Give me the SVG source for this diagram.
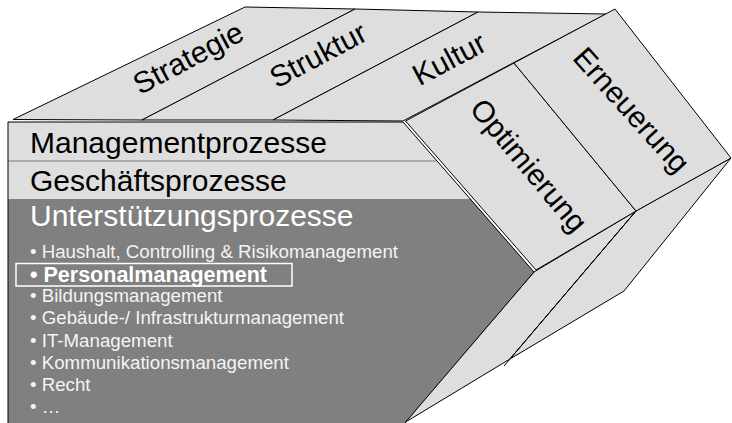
<svg xmlns="http://www.w3.org/2000/svg" width="732" height="423" viewBox="0 0 732 423">
  <style>
    .face { fill: #dedede; stroke: #000; stroke-width: 1; stroke-linejoin: miter; }
    .dark { fill: #808080; stroke: #000; stroke-width: 1; }
    .edge { fill: none; stroke: #000; stroke-width: 1; }
    .sep  { fill: none; stroke: #7a7a7a; stroke-width: 1; }
    .big  { font-family: "Liberation Sans", Arial, sans-serif; font-size: 30px; fill: #000; }
    .head { font-family: "Liberation Sans", Arial, sans-serif; font-size: 30px; fill: #fff; }
    .item { font-family: "Liberation Sans", Arial, sans-serif; font-size: 18.7px; fill: #f4f4f4; }
    .bold { font-family: "Liberation Sans", Arial, sans-serif; font-size: 21.5px; font-weight: bold; fill: #fff; }
  </style>
  <rect width="732" height="423" fill="#fff"/>

  <!-- underside faces -->
  <g id="underside-left">
    <polygon class="face" points="534,272 636,211 510,359 404,423"/>
  </g>
  <g id="underside-right">
    <polygon class="face" points="636,211 731,158 624,291 510,359"/>
  </g>

  <!-- top face: three bands -->
  <g id="strategie">
    <polygon class="face" points="13,119.5 245,7 355,9 142,120"/>
    <text class="big" transform="translate(193,67) rotate(-28)" text-anchor="middle">Strategie</text>
  </g>
  <g id="struktur">
    <polygon class="face" points="142,120 355,9 478,12 273,120"/>
    <text class="big" transform="translate(323,64) rotate(-28)" text-anchor="middle">Struktur</text>
  </g>
  <g id="kultur">
    <polygon class="face" points="273,120 478,12 606,14 403,121"/>
    <text class="big" transform="translate(454,68) rotate(-28)" text-anchor="middle">Kultur</text>
  </g>

  <!-- right side faces -->
  <g id="optimierung">
    <polygon class="face" points="405.5,121 514,63 636,211 536,270"/>
    <text class="big" transform="translate(521,172) rotate(50)" text-anchor="middle">Optimierung</text>
  </g>
  <g id="erneuerung">
    <polygon class="face" points="514,63 615,9 731,158 636,211"/>
    <text class="big" transform="translate(624,117) rotate(48)" text-anchor="middle">Erneuerung</text>
  </g>

  <!-- front face -->
  <g id="managementprozesse">
    <polygon fill="#dedede" points="8,122 403,122 437.3,161 8,161"/>
    <text class="big" x="30" y="153">Managementprozesse</text>
  </g>
  <g id="geschaeftsprozesse">
    <polygon fill="#dedede" points="8,161 437.3,161 470.7,199 8,199"/>
    <text class="big" x="30" y="191">Geschäftsprozesse</text>
  </g>
  <g id="unterstuetzungsprozesse">
    <polygon fill="#808080" points="8,199 470.7,199 534,272 404,424 8,424"/>
    <text class="head" x="30" y="226">Unterstützungsprozesse</text>
    <text class="item" x="30" y="258">• Haushalt, Controlling &amp; Risikomanagement</text>
    <rect x="16" y="263.5" width="276" height="22.5" fill="none" stroke="#fff" stroke-width="1.5"/>
    <text class="bold" x="30" y="282">• Personalmanagement</text>
    <text class="item" x="30" y="302">• Bildungsmanagement</text>
    <text class="item" x="30" y="324">• Gebäude-/ Infrastrukturmanagement</text>
    <text class="item" x="30" y="347">• IT-Management</text>
    <text class="item" x="30" y="369">• Kommunikationsmanagement</text>
    <text class="item" x="30" y="391">• Recht</text>
    <text class="item" x="30" y="413">• …</text>
  </g>

  <!-- outlines of the front block -->
  <g id="outlines">
    <line class="sep" x1="8" y1="161" x2="437.3" y2="161"/>
    <polyline class="edge" points="8,424 8,122 403,122 534,272 404,424"/>
    <line class="edge" x1="636" y1="211" x2="504" y2="366"/>
  </g>
</svg>
